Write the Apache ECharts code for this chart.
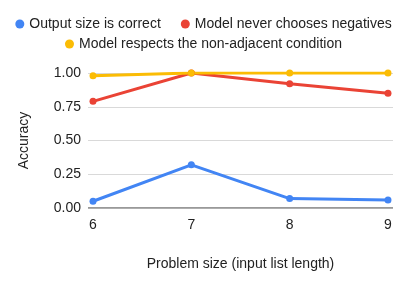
<!DOCTYPE html>
<html><head><meta charset="utf-8">
<script src="https://cdn.jsdelivr.net/npm/echarts@6/dist/echarts.min.js"></script>
<style>html,body{margin:0;padding:0;background:#fff}#c{width:407px;height:286px}</style>
</head><body><div id="c"></div>
<script>
const categories = [6, 7, 8, 9];
const seriesNames = ['Output size is correct', 'Model never chooses negatives', 'Model respects the non-adjacent condition'];
const outputSizeCorrect = [0.05, 0.32, 0.07, 0.06];
const neverNegatives = [0.79, 1.0, 0.92, 0.85];
const respectsNonAdjacent = [0.98, 1.0, 1.0, 1.0];

const chart = echarts.init(document.getElementById('c'), null, {renderer: 'canvas'});
const font = 'Arial, "Liberation Sans", sans-serif';
function mk(name, data, color) {
  return {
    name, type: 'line', data: categories.map((c, i) => [c, data[i]]),
    symbol: 'circle', symbolSize: 7, showSymbol: true,
    lineStyle: {width: 3, color}, itemStyle: {color}, animation: false
  };
}
const legendBase = {
  left: 'center', icon: 'circle', itemWidth: 9, itemHeight: 9, itemGap: 20, padding: 0,
  textStyle: {fontSize: 14, color: '#222', fontFamily: font}
};
chart.setOption({
  animation: false,
  textStyle: {fontFamily: font},
  legend: [
    Object.assign({data: seriesNames.slice(0, 2), top: 17}, legendBase),
    Object.assign({data: seriesNames.slice(2), top: 37}, legendBase)
  ],
  grid: {left: 88, right: 14, top: 73, bottom: 78},
  xAxis: {
    type: 'value', min: 5.949, max: 9.051,
    name: 'Problem size (input list length)', nameLocation: 'middle', nameGap: 49,
    nameTextStyle: {fontSize: 14, color: '#222', fontFamily: font},
    axisLine: {show: false}, axisTick: {show: false}, splitLine: {show: false},
    axisLabel: {
      customValues: categories, fontSize: 14, color: '#222', margin: 10,
      formatter: v => String(v)
    }
  },
  yAxis: {
    type: 'value', min: 0, max: 1, interval: 0.25,
    name: 'Accuracy', nameLocation: 'middle', nameGap: 57,
    nameTextStyle: {fontSize: 14, color: '#222', fontFamily: font},
    axisLine: {show: false}, axisTick: {show: false},
    splitLine: {lineStyle: {color: '#d9d9d9', width: 1}},
    axisLabel: {fontSize: 14, color: '#222', margin: 7, formatter: v => v.toFixed(2)}
  },
  series: [
    mk(seriesNames[0], outputSizeCorrect, '#4285F4'),
    mk(seriesNames[1], neverNegatives, '#EA4335'),
    mk(seriesNames[2], respectsNonAdjacent, '#FBBC04'),
    {type: 'line', data: [[5.949, 0], [9.051, 0]], symbol: 'none', silent: true,
     lineStyle: {color: '#333', width: 1}, z: 1, name: '_axis'}
  ]
});
</script></body></html>
